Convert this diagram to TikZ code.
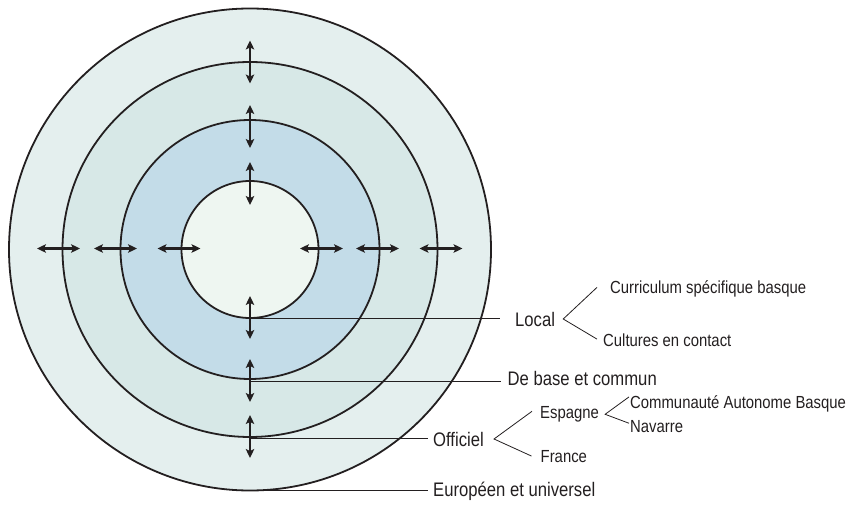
\documentclass[tikz,border=0pt]{standalone}
\usepackage{fontspec}
\setmainfont{Liberation Sans}[FakeStretch=0.85]
\usetikzlibrary{arrows.meta,calc}
\definecolor{ink}{HTML}{231F20}
\definecolor{ringA}{HTML}{E4EFEE}
\definecolor{ringB}{HTML}{D7E8E7}
\definecolor{ringC}{HTML}{C3DCE8}
\definecolor{ringD}{HTML}{EEF6F1}

\begin{document}
\begin{tikzpicture}[x=1pt,y=-1pt,
    ring/.style={draw=ink,line width=1.8pt},
    updown/.style={<->,>={Stealth[length=9pt,width=8.5pt,inset=2pt]},line width=2.3pt,draw=ink},
    lead/.style={draw=ink,line width=0.8pt},
    big/.style={inner sep=0pt,anchor=base west,font=\fontsize{19.6}{22}\selectfont,text=ink},
    small/.style={inner sep=0pt,anchor=base west,font=\fontsize{17.5}{20}\selectfont,text=ink}]
  \useasboundingbox (0,0) rectangle (849,505);
  \coordinate (c) at (250,249.5);
  \draw[ring,fill=ringA] (c) circle (241pt);
  \draw[ring,fill=ringB] (c) circle (187.5pt);
  \draw[ring,fill=ringC] (c) circle (129.5pt);
  \draw[ring,fill=ringD] (c) circle (68.5pt);
  \foreach \y in {62,126.5,183.5,317.5,380.5,436.5}
    \draw[updown] (250,\y-21.5) -- (250,\y+21.5);
  \foreach \x in {58.5,115.5,179,321.5,377.5,441}
    \draw[updown] (\x-21.5,248.5) -- (\x+21.5,248.5);
  % labels
  \node[big] (local) at (515,326) {Local};
  \node[big] (base) at (507.5,385) {De base et commun};
  \node[big] (off) at (433,446) {Officiel};
  \node[big] (eur) at (433,496) {Européen et universel};
  \node[small] (cur) at (610,293) {Curriculum spécifique basque};
  \node[small] (cul) at (603,346) {Cultures en contact};
  \node[small] (esp) at (540,418.5) {Espagne};
  \node[small] (fra) at (540.5,462) {France};
  \node[small] (com) at (630,408) {Communauté Autonome Basque};
  \node[small] (nav) at (630,432.5) {Navarre};
  \coordinate (pLocal) at (250,318.5);
  \coordinate (pBase) at (250,381);
  \coordinate (pOff) at (250,438.5);
  \coordinate (pEur) at (250,490);
  \draw[lead] (pLocal) -- ($(pLocal -| local.west)+(-15,0)$);
  \draw[lead] (pBase) -- ($(pBase -| base.west)+(-7,0)$);
  \draw[lead] (pOff) -- ($(pOff -| off.west)+(-5,0)$);
  \draw[lead] (pEur) -- ($(pEur -| eur.west)+(-5,0)$);
  % brackets
  \draw[lead] ($(cur.west)+(-13,-1)$) -- ($(local.east)+(8,0)$) -- ($(cul.north west)+(-6,6)$);
  \draw[lead] ($(esp.west)+(-8,-3)$) -- ($(off.east)+(10,0)$) -- ($(fra.west)+(-9,0)$);
  \draw[lead] ($(com.north west)+(-1,2)$) -- ($(esp.east)+(6,0)$) -- ($(nav.north west)+(-1,3)$);
\end{tikzpicture}
\end{document}
